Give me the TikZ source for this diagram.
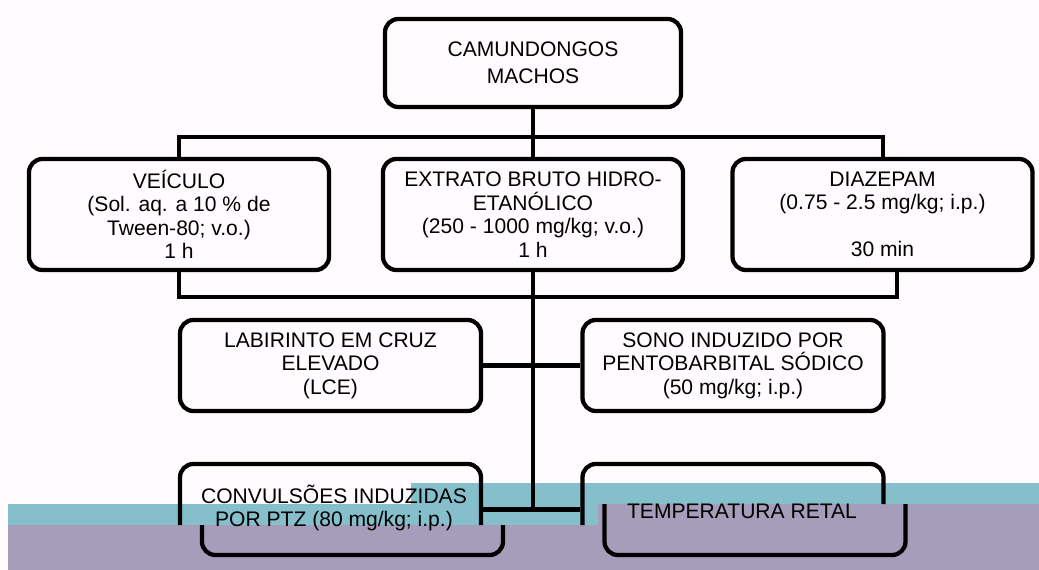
\documentclass[tikz,border=0pt]{standalone}
\usepackage{fontspec}
\setmainfont{Liberation Sans}
\usetikzlibrary{calc}
\definecolor{bgcol}{RGB}{255,251,254}
\definecolor{tealband}{RGB}{132,191,203}
\definecolor{lilacband}{RGB}{166,157,186}
\begin{document}
\begin{tikzpicture}[x=0.75pt,y=-0.75pt,
  box/.style={draw=black, line width=3.2pt, rounded corners=10pt, inner sep=0pt,
    align=center, font=\fontsize{15.8}{17.6}\selectfont},
  topsize/.style={minimum width=222pt, minimum height=66pt, font=\fontsize{15.8}{20}\selectfont},
  bigsize/.style={minimum width=225pt, minimum height=83.25pt},
  midsize/.style={minimum width=225.75pt, minimum height=68.25pt},
  lbl/.style={align=center, inner sep=0pt, font=\fontsize{15.8}{17.6}\selectfont},
  link/.style={draw=black, line width=3.2pt}]
\useasboundingbox (0,0) rectangle (1039,570);
\fill[bgcol] (0,0) rectangle (1039,570);
% coloured bands of the reference
\fill[tealband] (411,483) rectangle (1039,504);
\fill[tealband] (8,504) rectangle (598,525);
\fill[lilacband] (598,504) rectangle (1039,570);
\fill[lilacband] (8,525) rectangle (598,570);

% boxes
\node[box,topsize] (top) at (533,63) {CAMUNDONGOS\\MACHOS};
\node[box,bigsize] (veic) at (179,214.5) {VEÍCULO\\(Sol. aq. a 10 \% de\\Tween-80; v.o.)\\1 h};
\node[box,bigsize] (ext) at (533,214.5) {EXTRATO BRUTO HIDRO-\\ETANÓLICO\\(250 - 1000 mg/kg; v.o.)\\1 h};
\node[box,bigsize] (diaz) at (882.5,214.5) {DIAZEPAM\\(0.75 - 2.5 mg/kg; i.p.)\\\mbox{}\\30 min};
\node[box,midsize] (lce) at (330.5,365.5) {LABIRINTO EM CRUZ\\ELEVADO\\(LCE)};
\node[box,midsize] (sono) at (733,365.5) {SONO INDUZIDO POR\\PENTOBARBITAL SÓDICO\\(50 mg/kg; i.p.)};

% bottom boxes, upper part in place
\begin{scope}
  \clip (0,0) -- (1039,0) -- (1039,504) -- (598,504) -- (598,525) -- (0,525) -- cycle;
  \node[box,midsize] (conv) at (330.5,509.5) {};
  \node[box,midsize] (temp) at (733,509.5) {};
\end{scope}
% bottom boxes, lower part shifted to the right
\begin{scope}
  \clip (0,525) -- (598,525) -- (598,504) -- (1039,504) -- (1039,570) -- (0,570) -- cycle;
  \begin{scope}[xshift=16.5pt]
    \node[box,midsize] (convshift) at (330.5,509.5) {};
    \node[box,midsize] (tempshift) at (733,509.5) {};
  \end{scope}
\end{scope}
\node[lbl] (convtext) at (334,508) {CONVULSÕES INDUZIDAS\\POR PTZ (80 mg/kg; i.p.)};
\node[lbl] (temptext) at (742,511) {TEMPERATURA RETAL};

% connectors
\coordinate (hubtop) at (533,137);
\coordinate (hubbot) at (533,297);
\coordinate (diazin) at ([xshift=0.5pt]diaz.north);
\coordinate (diazout) at ([xshift=11pt]diaz.south);
\draw[link] (top.south) -- (ext.north);
\draw[link] (veic.north) -- (veic.north |- hubtop) -- (diazin |- hubtop) -- (diazin);
\draw[link] (veic.south) -- (veic.south |- hubbot) -- (diazout |- hubbot) -- (diazout);
\draw[link] (ext.south) -- (ext.south |- conv.east);
\draw[link] (lce.east) -- (sono.west);
\draw[link] (conv.east) -- (temp.west);
\end{tikzpicture}
\end{document}
